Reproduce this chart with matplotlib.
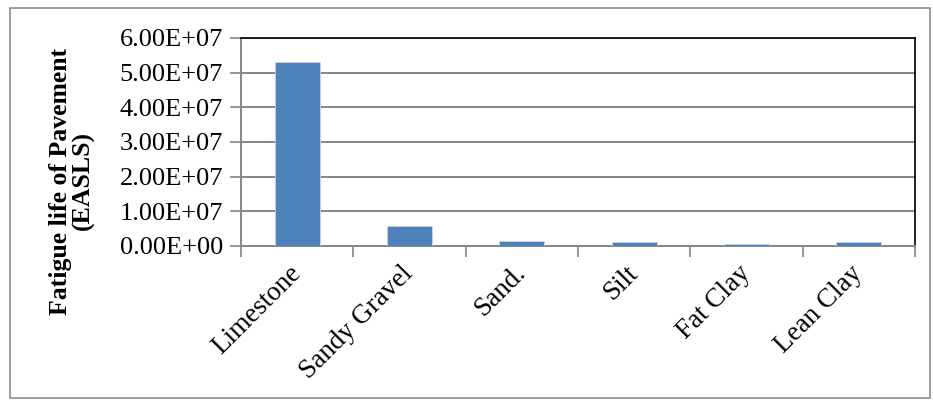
import matplotlib
matplotlib.use("Agg")

import matplotlib.pyplot as plt
import numpy as np
from matplotlib.patches import Rectangle

soils = ["Limestone", "Sandy Gravel", "Sand.", "Silt", "Fat Clay", "Lean Clay"]
fatigue_life = [5.31e7, 5.8e6, 1.45e6, 1.15e6, 6.0e5, 1.05e6]
y_ticks = [0, 1e7, 2e7, 3e7, 4e7, 5e7, 6e7]

plt.rcParams["font.family"] = ["Liberation Serif", "DejaVu Serif"]

W, H = 933, 401
fig = plt.figure(figsize=(W / 100, H / 100), dpi=100)
ax = fig.add_axes([241 / W, 1 - 246 / H, (915 - 241) / W, (246 - 38) / H])

# outer chart border
fig.patches.append(Rectangle((10 / W, 3 / H), 920 / W, 390 / H,
                             transform=fig.transFigure, fill=False,
                             edgecolor="#8c8c8c", linewidth=1.2))

x = np.arange(len(soils))
ax.bar(x, fatigue_life, width=0.4, color="#4f81bd", edgecolor="#c5d4e8",
       linewidth=0.6, zorder=3)

ax.set_xlim(-0.5, len(soils) - 0.5)
ax.set_ylim(0, 6e7)
ax.set_yticks(y_ticks)
ax.set_yticklabels([f"{v:.2E}" for v in y_ticks], fontsize=19)
ax.grid(axis="y", color="#868686", linewidth=1.4, zorder=0)

# category boundaries as tick marks, labels at category centres
ax.set_xticks(np.arange(len(soils) + 1) - 0.5)
ax.set_xticklabels([])
ax.set_xticks(x, minor=True)
ax.set_xticklabels(soils, minor=True, rotation=45, ha="right", va="center",
                   rotation_mode="anchor", fontsize=19.5)
ax.tick_params(axis="x", which="major", length=8, width=1.2, color="#868686",
               direction="out")
ax.tick_params(axis="x", which="minor", length=0, pad=17)
ax.tick_params(axis="y", length=8, width=1.2, color="#868686", pad=5)

for side in ["left", "bottom"]:
    ax.spines[side].set_color("#868686")
    ax.spines[side].set_linewidth(1.4)
for side in ["top", "right"]:
    ax.spines[side].set_color("black")
    ax.spines[side].set_linewidth(1.2)

fig.text(72 / W, 1 - 181 / H, "Fatigue life of Pavement\n(EASLS)",
         rotation=90, ha="center", va="center", fontsize=18.5,
         fontweight="bold", linespacing=0.95)

plt.savefig("out.png", dpi=100)
